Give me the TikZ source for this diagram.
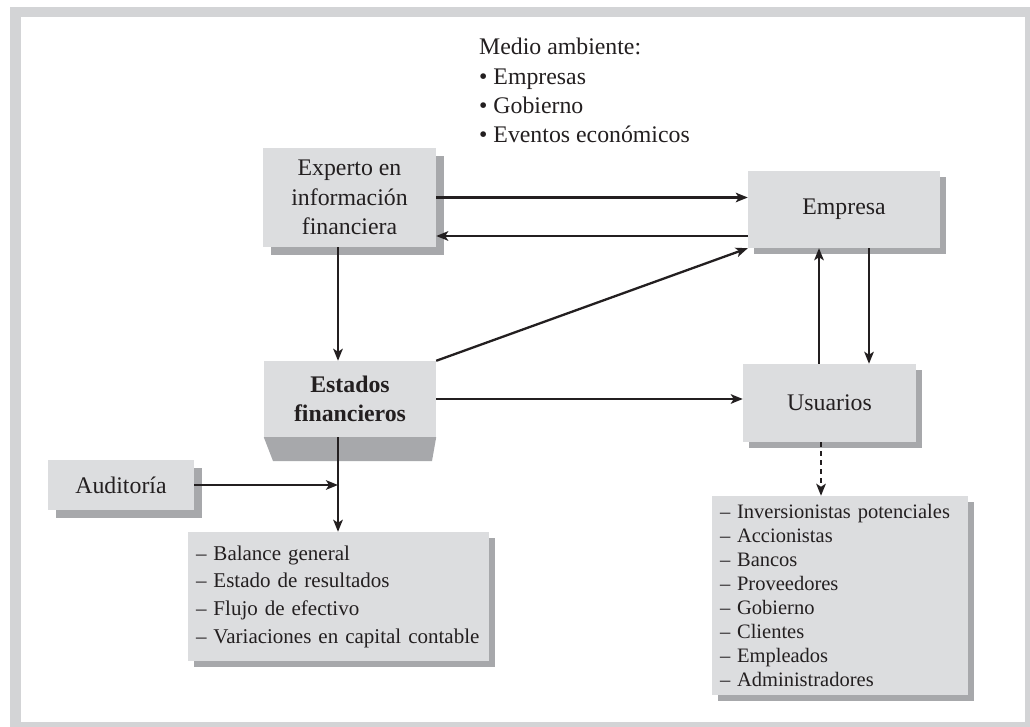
\documentclass[tikz,border=0pt]{standalone}
\usepackage{fontspec}
\setmainfont{Liberation Serif}
\usetikzlibrary{arrows.meta,shadows}
\definecolor{boxgray}{HTML}{DCDDDF}
\definecolor{shadegray}{HTML}{A7A8AB}
\definecolor{framegray}{HTML}{D3D4D6}
\definecolor{ink}{HTML}{231F20}
\begin{document}
\begin{tikzpicture}[x=1pt,y=-1pt,
  every node/.style={text=ink, font=\fontsize{23.8}{29.3}\selectfont},
  gbox/.style={fill=boxgray, inner sep=0pt, align=center},
  shad/.style={drop shadow={shadow xshift=#1pt, shadow yshift=-#1pt, fill=shadegray, opacity=1}},
  arr/.style={draw=ink, line width=2.3pt, -{Stealth[length=12pt,width=9.5pt,inset=3pt]}}
]
\useasboundingbox (0,0) rectangle (1030,727);
\fill[framegray] (10,7) rectangle (1030,727);
\fill[white] (21,17) rectangle (1025,722);

\node[gbox, shad=8, minimum width=173pt, minimum height=99pt] (experto) at (349.5,197.5)
  {Experto en\\información\\financiera};
\node[gbox, shad=6, minimum width=192pt, minimum height=77pt] (empresa) at (844,209.5) {Empresa};
\node[gbox, minimum width=172pt, minimum height=76pt] (estados) at (350,399)
  {\bfseries Estados\\\bfseries financieros};
\fill[shadegray] (estados.south west) -- (estados.south east) -- (432,461) -- (273,461) -- cycle;
\node[gbox, shad=6, minimum width=173pt, minimum height=78pt] (usuarios) at (829.5,403) {Usuarios};
\node[gbox, shad=8, minimum width=146pt, minimum height=50pt] (auditoria) at (121,485) {Auditoría};
\node[gbox, shad=6, minimum width=301pt, minimum height=129pt, inner xsep=8pt, text width=285pt, align=left,
  font=\fontsize{21}{27.7}\selectfont] (llist) at (338.5,596.5)
  {– Balance general\\– Estado de resultados\\– Flujo de efectivo\\– Variaciones en capital contable};
\node[gbox, shad=6, minimum width=256pt, minimum height=199pt, inner xsep=8pt, text width=240pt, align=left,
  font=\fontsize{20.5}{24}\selectfont] (rlist) at (840,595.5)
  {– Inversionistas potenciales\\– Accionistas\\– Bancos\\– Proveedores\\– Gobierno\\– Clientes\\– Empleados\\– Administradores};
\node[anchor=north west, align=left, inner sep=0pt] (medio) at (479,38)
  {Medio ambiente:\\• Empresas\\• Gobierno\\• Eventos económicos};

\coordinate (vx) at (338,0);
\coordinate (ua) at (819,0);
\coordinate (ub) at (869,0);
\coordinate (ud) at (821,0);

\draw[arr] (experto.east) -- (experto.east -| empresa.west);
\draw[arr] ([yshift=-26.5pt]empresa.west) -- ([yshift=-26.5pt]empresa.west -| experto.east);
\draw[arr] (experto.south -| vx) -- (estados.north -| vx);
\draw[arr] (estados.north east) -- (empresa.south west);
\draw[arr] (estados.east) -- (estados.east -| usuarios.west);
\draw[arr] (estados.south -| vx) -- (llist.north -| vx);
\draw[arr] (auditoria.east) -- (auditoria.east -| vx);
\draw[arr] (usuarios.north -| ua) -- (empresa.south -| ua);
\draw[arr] (empresa.south -| ub) -- (usuarios.north -| ub);
\draw[arr, dash pattern=on 5pt off 4pt] (usuarios.south -| ud) -- (rlist.north -| ud);
\end{tikzpicture}
\end{document}
